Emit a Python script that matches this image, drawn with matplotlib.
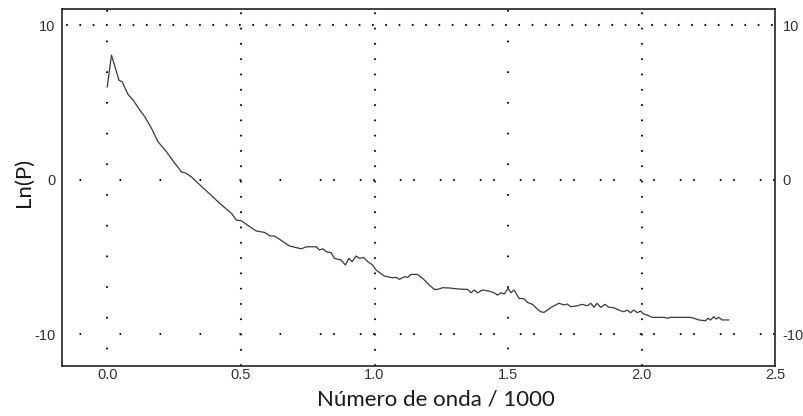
"""
Ln(P) vs wavenumber spectrum plot
"""

import matplotlib
matplotlib.use("Agg")
import matplotlib.pyplot as plt

# values
wavenumber = [0.000, 0.016, 0.044, 0.056, 0.078, 0.097, 0.122, 0.141, 0.166, 0.190,
              0.222, 0.253, 0.278, 0.296, 0.315, 0.334, 0.376, 0.421, 0.465, 0.483,
              0.502, 0.533, 0.558, 0.589, 0.608, 0.626, 0.645, 0.682, 0.726, 0.745,
              0.782, 0.794, 0.807, 0.819, 0.838, 0.850, 0.875, 0.891, 0.904, 0.916,
              0.931, 0.944, 0.959, 0.975, 0.993, 1.006, 1.037, 1.068, 1.081, 1.093,
              1.112, 1.124, 1.137, 1.161, 1.180, 1.205, 1.224, 1.236, 1.255, 1.280,
              1.317, 1.348, 1.361, 1.373, 1.385, 1.404, 1.429, 1.448, 1.460, 1.473,
              1.485, 1.500, 1.510, 1.522, 1.541, 1.560, 1.572, 1.591, 1.609, 1.622,
              1.634, 1.647, 1.665, 1.690, 1.709, 1.721, 1.734, 1.759, 1.777, 1.796,
              1.809, 1.821, 1.833, 1.846, 1.862, 1.877, 1.896, 1.914, 1.933, 1.945,
              1.958, 1.970, 1.983, 1.995, 2.008, 2.020, 2.039, 2.083, 2.095, 2.108,
              2.182, 2.195, 2.213, 2.238, 2.248, 2.257, 2.269, 2.278, 2.288, 2.300,
              2.325]
ln_p = [6.01, 8.06, 6.44, 6.33, 5.51, 5.15, 4.50, 4.06, 3.31, 2.45,
        1.80, 1.05, 0.50, 0.40, 0.18, -0.14, -0.81, -1.54, -2.19, -2.62,
        -2.67, -3.05, -3.33, -3.42, -3.64, -3.66, -3.87, -4.30, -4.48, -4.35,
        -4.35, -4.56, -4.48, -4.67, -4.74, -5.10, -5.21, -5.53, -5.10, -5.32,
        -4.95, -5.10, -5.04, -5.32, -5.53, -5.86, -6.25, -6.36, -6.33, -6.46,
        -6.29, -6.33, -6.14, -6.14, -6.39, -6.83, -7.11, -7.11, -7.00, -7.02,
        -7.09, -7.11, -7.33, -7.15, -7.33, -7.15, -7.22, -7.33, -7.48, -7.33,
        -7.41, -7.04, -7.33, -7.15, -7.69, -7.73, -7.95, -8.08, -8.38, -8.56,
        -8.60, -8.45, -8.23, -8.01, -8.12, -8.06, -8.23, -8.17, -8.08, -8.17,
        -8.01, -8.27, -8.01, -8.27, -8.08, -8.27, -8.30, -8.45, -8.56, -8.45,
        -8.62, -8.45, -8.62, -8.51, -8.72, -8.77, -8.92, -8.92, -8.98, -8.92,
        -8.92, -8.98, -9.09, -9.14, -8.98, -9.09, -8.88, -9.03, -8.92, -9.09,
        -9.09]

x_ticks = [0.0, 0.5, 1.0, 1.5, 2.0, 2.5]
x_ticklabels = ["0.0", "0.5", "1.0", "1.5", "2.0", "2.5"]
y_ticks = [-10, 0, 10]
y_ticklabels = ["-10", "0", "10"]
x_grid = [0.0, 0.5, 1.0, 1.5, 2.0]
y_grid = [-10, 0, 10]

PX = 0.72  # points per pixel at 100 dpi
plt.rcParams["lines.scale_dashes"] = False


def dots(on_px, *gaps_px, offset_px=0.0):
    # build a dotted dash pattern in points from pixel sizes
    seq = []
    for g in gaps_px:
        seq += [on_px * PX, g * PX]
    return (offset_px * PX, seq)


fig = plt.figure(figsize=(8.04, 4.16), dpi=100)
ax = fig.add_axes([0.0775, 0.121, 0.887, 0.857])

ax.plot(wavenumber, ln_p, color="#3a3a3a", linewidth=0.9, zorder=3)

ax.set_xlim(-0.168, 2.493)
ax.set_ylim(-12.05, 11.04)

# dotted grid, the density differs from line to line as in the original
grid_kw = dict(color="#1a1a1a", linewidth=1.5, zorder=1, solid_capstyle="butt",
               dash_capstyle="butt")
for xv in x_grid:
    if xv in (0.0, 1.5):
        ls = dots(1.7, 29.0, offset_px=14)
    else:
        ls = dots(1.7, 13.6, offset_px=0)
    ax.axvline(xv, linestyle=ls, **grid_kw)
for yv in y_grid:
    if yv == 10:
        ls = dots(1.7, 11.6, offset_px=9.2)
        ax.axhline(yv, linestyle=ls, **grid_kw)
    else:
        split = 0.3335
        ax.axhline(yv, xmax=split, linestyle=dots(1.7, 38.3, offset_px=22.5), **grid_kw)
        ax.axhline(yv, xmin=split, linestyle=dots(1.7, 11.6, 25.0, offset_px=20.2),
                   **grid_kw)

for side in ["left", "right", "top", "bottom"]:
    ax.spines[side].set_color("#222222")
    ax.spines[side].set_linewidth(1.2)

ax.set_xticks(x_ticks)
ax.set_xticklabels(x_ticklabels)
ax.set_yticks(y_ticks)
ax.set_yticklabels(y_ticklabels)
ax.tick_params(axis="both", length=0, labelsize=10.5, labelcolor="#333333")
ax.tick_params(axis="x", pad=1.5)
ax.tick_params(axis="y", pad=5, labelright=True)
for lab in ax.get_xticklabels() + ax.get_yticklabels():
    lab.set_family("Liberation Sans")

ax.set_xlabel("Número de onda / 1000", fontsize=16, family="Lato", color="#1a1a1a")
ax.set_ylabel("Ln(P)", fontsize=16, family="Lato", color="#1a1a1a")
ax.xaxis.set_label_coords(0.524, -0.096)
ax.xaxis.label.set_va("center")
ax.yaxis.set_label_coords(-0.0537, 0.515)
ax.yaxis.label.set_va("center")

fig.savefig("out.png", dpi=100)
